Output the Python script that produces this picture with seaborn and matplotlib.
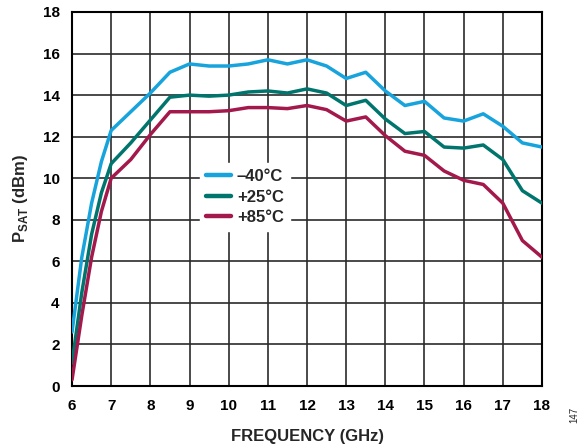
import matplotlib.pyplot as plt
import seaborn as sns
import pandas as pd

freq = [6.0, 6.25, 6.5, 6.75, 7.0, 7.5, 8.0, 8.5, 9.0, 9.5, 10.0, 10.5, 11.0, 11.5,
        12.0, 12.5, 13.0, 13.5, 14.0, 14.5, 15.0, 15.5, 16.0, 16.5, 17.0, 17.5, 18.0]
psat_m40 = [2.6, 6.2, 8.8, 10.8, 12.3, 13.2, 14.1, 15.1, 15.5, 15.4, 15.4, 15.5, 15.7, 15.5,
            15.7, 15.4, 14.8, 15.1, 14.2, 13.5, 13.7, 12.9, 12.75, 13.1, 12.5, 11.7, 11.5]
psat_25 = [1.1, 4.5, 7.3, 9.3, 10.7, 11.7, 12.8, 13.9, 14.0, 13.95, 14.0, 14.15, 14.2, 14.1,
           14.3, 14.1, 13.5, 13.75, 12.85, 12.15, 12.25, 11.5, 11.45, 11.6, 10.9, 9.4, 8.8]
psat_85 = [0.3, 3.4, 6.2, 8.4, 10.0, 10.9, 12.1, 13.2, 13.2, 13.2, 13.25, 13.4, 13.4, 13.35,
           13.5, 13.3, 12.75, 12.95, 12.05, 11.3, 11.1, 10.35, 9.9, 9.7, 8.8, 7.0, 6.2]
labels = ["\u201340°C", "+25°C", "+85°C"]
colors = ["#17a3dc", "#00756d", "#a3194b"]

df = pd.concat([
    pd.DataFrame({"freq": freq, "psat": vals, "temp": lab})
    for vals, lab in zip([psat_m40, psat_25, psat_85], labels)
])

sns.set_theme(style="white")
plt.rcParams["font.family"] = ["Liberation Sans", "DejaVu Sans"]
plt.rcParams["mathtext.fontset"] = "custom"
plt.rcParams["mathtext.bf"] = "Liberation Sans:bold"

fig = plt.figure(figsize=(5.87, 4.46), dpi=100)
ax = fig.add_axes([0.1227, 0.1345, 0.8006, 0.8386])

sns.lineplot(data=df, x="freq", y="psat", hue="temp", palette=colors,
             linewidth=2.5, ax=ax, zorder=3)

ax.set_xlim(6, 18)
ax.set_ylim(0, 18)
ax.set_xticks(range(6, 19))
ax.set_yticks(range(0, 19, 2))
ax.grid(True, color="#2b2b2b", linewidth=1.2)
ax.set_axisbelow(True)
for s in ax.spines.values():
    s.set_color("black")
    s.set_linewidth(1.5)
ax.tick_params(length=0, labelsize=11, pad=9, colors="black")
for t in ax.get_xticklabels() + ax.get_yticklabels():
    t.set_fontweight("bold")

ax.set_xlabel("FREQUENCY (GHz)", fontsize=12, fontweight="bold", labelpad=12)
ax.set_ylabel(r"P$_{\mathbf{SAT}}$ (dBm)", fontsize=12, fontweight="bold", labelpad=9)

leg = ax.legend(loc="center", bbox_to_anchor=(0.368, 0.505), frameon=True,
                fontsize=12, handlelength=1.5, borderpad=0.35, labelspacing=0.32,
                handletextpad=0.35, fancybox=False)
leg.get_frame().set_facecolor("white")
leg.get_frame().set_edgecolor("white")
leg.get_frame().set_alpha(1)
for t in leg.get_texts():
    t.set_fontweight("bold")
for h in leg.get_lines():
    h.set_linewidth(3.2)

fig.text(0.978, 0.07, "147", rotation=90, fontsize=7, ha="center", va="center")

fig.savefig("out.png", dpi=100)
